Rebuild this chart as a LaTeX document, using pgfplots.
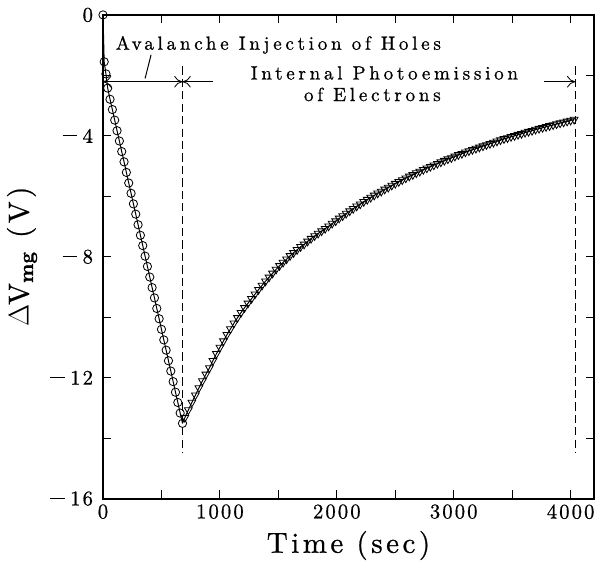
\documentclass[border=0pt]{standalone}
\usepackage{fontspec}
\setmainfont{lmroman10-regular.otf}[LetterSpace=12, FakeBold=0.8, BoldFont=lmroman10-bold.otf]
\newfontfamily\tickfont{lmroman10-regular.otf}[LetterSpace=10, FakeBold=0.8]
\newfontfamily\annfont{lmroman10-regular.otf}[LetterSpace=19.5, FakeBold=0.8]
\usepackage{pgfplots}
\pgfplotsset{compat=1.18}
\usetikzlibrary{arrows.meta}

\newcommand{\mn}{\raisebox{0.33em}{\rule{0.72em}{0.045em}}\kern0.25em}

\tikzset{
  tip/.tip={Computer Modern Rightarrow[length=5pt,width=7pt]},
  vline/.style={black, line width=0.55pt, dash pattern=on 5pt off 2.5pt},
  ann/.style={inner sep=0pt, font=\annfont\fontsize{11.5}{13}\selectfont},
}

\begin{document}
\begin{tikzpicture}
\begin{axis}[
  width=296pt, height=291.6pt, scale only axis,
  xmin=0, xmax=4200, ymin=-16, ymax=0,
  xtick={0,500,...,4000},
  xticklabels={0,,1000,,2000,,3000,,4000},
  ytick={-16,-14,...,0},
  yticklabels={\mn16,,\mn12,,\mn8,,\mn4,,0},
  tick align=inside, major tick length=5pt,
  tick style={black, line width=0.7pt},
  axis line style={line width=1.1pt},
  ticklabel style={font=\tickfont\fontsize{12.5}{14}\selectfont},
  yticklabel style={xshift=-2.5pt},
  label style={font=\fontsize{17.5}{20}\selectfont},
  xlabel={Time (sec)},
  ylabel={$\Delta$V$_{\mathbf{mg}}$ (V)},
  xlabel style={at={(axis description cs:0.5,-0.097)}, anchor=center},
  ylabel style={at={(axis description cs:-0.165,0.5)}, anchor=center},
  clip=false,
]
% avalanche injection (circles)
\addplot[black, line width=0.6pt, mark=o, mark size=2.5pt, mark options={solid, line width=0.5pt}] coordinates {
 (0,0) (10,-1.55) (25,-1.95) (40,-2.42) (60,-2.79) (80,-3.13) (100,-3.48)
 (120,-3.83) (140,-4.17) (160,-4.52) (180,-4.86) (200,-5.21) (220,-5.56)
 (240,-5.90) (260,-6.25) (280,-6.59) (300,-6.94) (320,-7.29) (340,-7.63)
 (360,-7.98) (380,-8.32) (400,-8.67) (420,-9.02) (440,-9.36) (460,-9.71)
 (480,-10.05) (500,-10.40) (520,-10.75) (540,-11.09) (560,-11.44) (580,-11.78)
 (600,-12.13) (620,-12.48) (640,-12.82) (660,-13.17) (680,-13.51)
};
\addplot[black, line width=0.6pt, no marks] coordinates {(680,-13.51) (700,-13.32)};
% internal photoemission (triangles)
\addplot[black, line width=0.6pt, mark=triangle, mark size=2.7pt, mark options={solid, rotate=180, line width=0.5pt}] coordinates {
 (700,-13.32) (730,-13.07) (760,-12.82) (790,-12.58) (820,-12.34) (850,-12.11)
 (880,-11.89) (910,-11.68) (940,-11.44) (970,-11.21) (1000,-11.00) (1030,-10.79)
 (1060,-10.58) (1090,-10.39) (1120,-10.20) (1150,-10.02) (1180,-9.85) (1210,-9.69)
 (1240,-9.54) (1270,-9.39) (1300,-9.24) (1330,-9.09) (1360,-8.95) (1390,-8.81)
 (1420,-8.68) (1450,-8.55) (1480,-8.42) (1510,-8.30) (1540,-8.19) (1570,-8.08)
 (1600,-7.97) (1630,-7.87) (1660,-7.77) (1690,-7.67) (1720,-7.59) (1750,-7.49)
 (1780,-7.40) (1810,-7.31) (1840,-7.23) (1870,-7.15) (1900,-7.07) (1930,-6.99)
 (1960,-6.90) (1990,-6.82) (2020,-6.73) (2050,-6.65) (2080,-6.57) (2110,-6.49)
 (2140,-6.41) (2170,-6.33) (2200,-6.26) (2230,-6.18) (2260,-6.11) (2290,-6.04)
 (2320,-5.97) (2350,-5.90) (2380,-5.84) (2410,-5.77) (2440,-5.71) (2470,-5.64)
 (2500,-5.58) (2530,-5.52) (2560,-5.46) (2590,-5.40) (2620,-5.34) (2650,-5.29)
 (2680,-5.23) (2710,-5.18) (2740,-5.12) (2770,-5.07) (2800,-5.02) (2830,-4.97)
 (2860,-4.92) (2890,-4.87) (2920,-4.82) (2950,-4.77) (2980,-4.73) (3010,-4.68)
 (3040,-4.63) (3070,-4.59) (3100,-4.54) (3130,-4.50) (3160,-4.46) (3190,-4.42)
 (3220,-4.38) (3250,-4.34) (3280,-4.30) (3310,-4.26) (3340,-4.22) (3370,-4.18)
 (3400,-4.14) (3430,-4.10) (3460,-4.07) (3490,-4.03) (3520,-4.00) (3550,-3.96)
 (3580,-3.93) (3610,-3.89) (3640,-3.86) (3670,-3.83) (3700,-3.79) (3730,-3.76)
 (3760,-3.73) (3790,-3.70) (3820,-3.67) (3850,-3.64) (3880,-3.61) (3910,-3.58)
 (3940,-3.55) (3970,-3.52) (4000,-3.49) (4030,-3.46)
};
% region markers
\draw[vline] (axis cs:680,-1.7) -- (axis cs:680,-14.5);
\draw[vline] (axis cs:4040,-1.7) -- (axis cs:4040,-14.5);
\draw[black, line width=0.5pt, {tip}-{tip}] (axis cs:0,-2.21) -- (axis cs:680,-2.21);
\draw[black, line width=0.5pt, -{tip}] (axis cs:941,-2.21) -- (axis cs:680,-2.21);
\draw[black, line width=0.5pt, -{tip}] (axis cs:3775,-2.21) -- (axis cs:4040,-2.21);
\draw[black, line width=0.6pt] (axis cs:411,-1.32) -- (axis cs:360,-2.1);
\node[ann, anchor=west] at (axis cs:106,-0.99) {Avalanche Injection of Holes};
\node[ann] at (axis cs:2407,-1.92) {Internal Photoemission};
\node[ann] at (axis cs:2304,-2.63) {of Electrons};
\end{axis}
\path ([xshift=-62.1pt,yshift=-40.2pt]current axis.south west) rectangle ([xshift=1.8pt,yshift=9pt]current axis.north east);
\end{tikzpicture}
\end{document}
